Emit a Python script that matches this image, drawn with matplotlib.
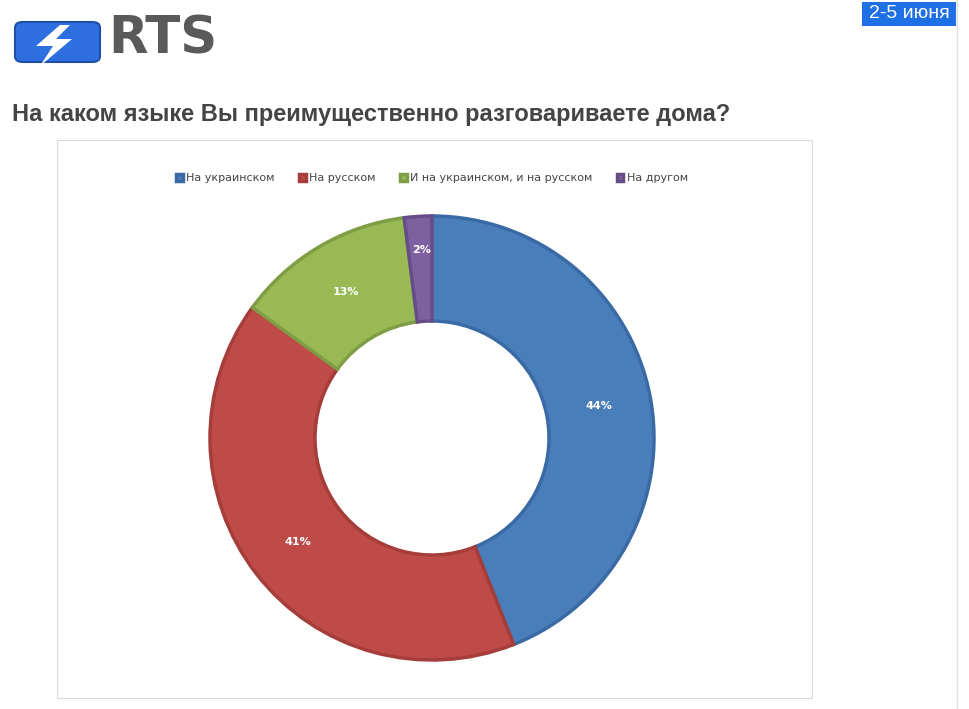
import numpy as np
import matplotlib.pyplot as plt
from matplotlib.patches import FancyBboxPatch, Rectangle, Polygon

labels = ['На украинском', 'На русском', 'И на украинском, и на русском', 'На другом']
values = [44, 41, 13, 2]
colors = ['#4a7ebb', '#be4b48', '#98b954', '#7d60a0']
edges = ['#3a6aa5', '#a53d3a', '#7f9d44', '#664d88']

W, H = 969, 709
fig = plt.figure(figsize=(W / 100, H / 100), dpi=100)
fig.patch.set_facecolor('white')


def fx(x):
    return x / W


def fy(y):
    return 1 - y / H


# logo
fig.patches.append(FancyBboxPatch((fx(15), fy(62)), fx(85), 40 / H,
                                  boxstyle='round,pad=0,rounding_size=0.008',
                                  transform=fig.transFigure, facecolor='#2e6fe0',
                                  edgecolor='#1f4fa8', linewidth=1.5))
bolt = [(60, 25), (36, 46), (53, 46), (40, 66), (72, 39), (56, 39), (70, 25)]
fig.patches.append(Polygon([(fx(x), fy(y)) for x, y in bolt], closed=True,
                           transform=fig.transFigure, facecolor='white', edgecolor='none'))
fig.text(fx(108), fy(40), 'RTS', fontsize=37, fontweight='bold', color='#5a5a5a',
         va='center', ha='left', family='DejaVu Sans')

# date badge
fig.patches.append(Rectangle((fx(862), fy(26)), fx(94), 24 / H, transform=fig.transFigure,
                             facecolor='#1f6fe5', edgecolor='none'))
fig.text(fx(909), fy(14), '2-5 июня', fontsize=14, color='white', ha='center', va='center',
         family='Liberation Sans')

fig.text(fx(12), fy(114), 'На каком языке Вы преимущественно разговариваете дома?',
         fontsize=17, fontweight='bold', color='#444444', ha='left', va='center',
         family='Liberation Sans')

# chart frame
fig.patches.append(Rectangle((fx(57), fy(698)), fx(755), 558 / H, transform=fig.transFigure,
                             facecolor='none', edgecolor='#d9d9d9', linewidth=0.8))
fig.lines.append(plt.Line2D([fx(957), fx(957)], [0, 1], transform=fig.transFigure,
                            color='#e0e0e0', linewidth=1))

# donut
cx, cy, half = 432, 438, 230
ax = fig.add_axes([fx(cx - half), fy(cy + half), 2 * half / W, 2 * half / H])
r = 222 / half
hole = 117 / 222
wedges, _ = ax.pie(values, colors=colors, startangle=90, counterclock=False, radius=r,
                   wedgeprops=dict(width=r * (1 - hole), linewidth=2.5))
for w, e in zip(wedges, edges):
    w.set_edgecolor(e)
start = 90
mid_r = r * (1 + hole) / 2
for v in values:
    ang = np.deg2rad(start - v * 3.6 / 2)
    start -= v * 3.6
    ax.text(mid_r * np.cos(ang), mid_r * np.sin(ang) + (0.08 if v == 2 else 0), f'{v}%',
            ha='center', va='center', fontsize=8, fontweight='bold', color='white')
ax.set_xlim(-1, 1)
ax.set_ylim(-1, 1)
ax.set_aspect('equal')
ax.axis('off')

fig.legend(wedges, labels, loc='center', bbox_to_anchor=(fx(432), fy(178)), ncol=4,
           frameon=False, fontsize=8, handlelength=0.6, handleheight=0.6,
           handletextpad=0.3, columnspacing=2.2, labelcolor='#444444')

fig.savefig('out.png', dpi=100)
